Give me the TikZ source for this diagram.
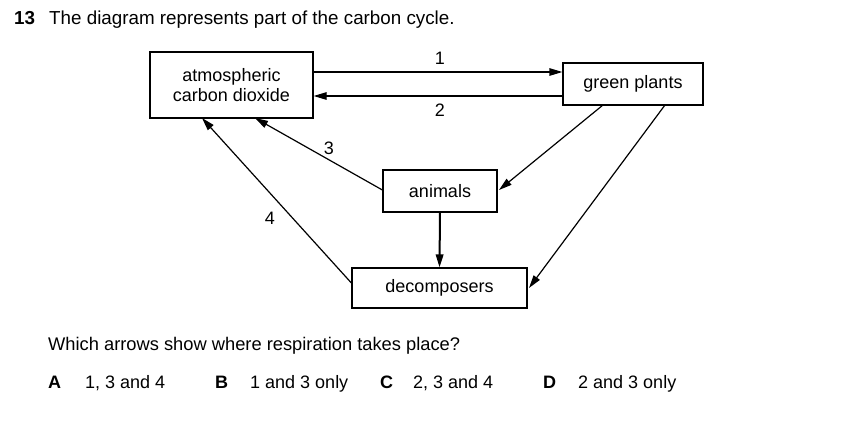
\documentclass[tikz,border=0pt]{standalone}
\usepackage{fontspec}
\setmainfont{Liberation Sans}
\usetikzlibrary{arrows.meta}
\begin{document}
\begin{tikzpicture}[x=1pt,y=-1pt,
  every node/.style={font=\fontsize{18}{22}\selectfont},
  box/.style={draw,line width=1.2pt,inner sep=0pt,align=center},
  arr/.style={line width=1.2pt,-{Triangle[length=13pt,width=7.5pt]}},
  txt/.style={anchor=base west,inner sep=0pt}]
\useasboundingbox (0,0) rectangle (852,437);
\node[box,minimum width=163pt,minimum height=66pt] (atm) at (231.5,85) {atmospheric\\[-2pt]carbon dioxide};
\node[box,minimum width=140pt,minimum height=42pt] (green) at (633,84) {green plants};
\node[box,minimum width=114pt,minimum height=42pt] (animals) at (440,191) {animals};
\node[box,minimum width=175pt,minimum height=40pt] (dec) at (439.5,288) {decomposers};
% arrows
\coordinate (a1s) at (atm.east |- 0,72);
\coordinate (a1e) at (green.west |- 0,72);
\coordinate (a2s) at (green.west |- 0,96);
\coordinate (a2e) at (atm.east |- 0,96);
\draw[arr] (a1s) -- (a1e);
\draw[arr] (a2s) -- (a2e);
\node (l1) at (440,58) {1};
\node (l2) at (440,110) {2};
\coordinate (a3s) at (animals.west |- 0,190);
\coordinate (a3e) at (255,118);
\draw[arr] (a3s) -- (a3e);
\node (l3) at (329,148) {3};
\coordinate (a4s) at (dec.west |- 0,283);
\coordinate (a4e) at (202,118);
\draw[arr] (a4s) -- (a4e);
\node (l4) at (270,218) {4};
\coordinate (g1s) at (603,105);
\coordinate (g1e) at (499,190);
\draw[arr] (g1s) -- (g1e);
\coordinate (g2s) at (665,105);
\coordinate (g2e) at (529,288);
\draw[arr] (g2s) -- (g2e);
\draw[arr,line width=2pt] (animals.south) -- (dec.north);
% text
\node[txt,font=\fontsize{18.8}{22}\selectfont] (qn) at (14,24) {\textbf{13}};
\node[txt,font=\fontsize{18.8}{22}\selectfont] (q) at (49,24) {The diagram represents part of the carbon cycle.};
\node[txt,font=\fontsize{18.3}{22}\selectfont] (w) at (48,350) {Which arrows show where respiration takes place?};
\node[txt] (A) at (48,388) {\textbf{A}};
\node[txt] (Ax) at (85,388) {1, 3 and 4};
\node[txt] (B) at (215,388) {\textbf{B}};
\node[txt] (Bx) at (250,388) {1 and 3 only};
\node[txt] (C) at (380,388) {\textbf{C}};
\node[txt] (Cx) at (413,388) {2, 3 and 4};
\node[txt] (D) at (543,388) {\textbf{D}};
\node[txt] (Dx) at (578,388) {2 and 3 only};
\end{tikzpicture}
\end{document}
